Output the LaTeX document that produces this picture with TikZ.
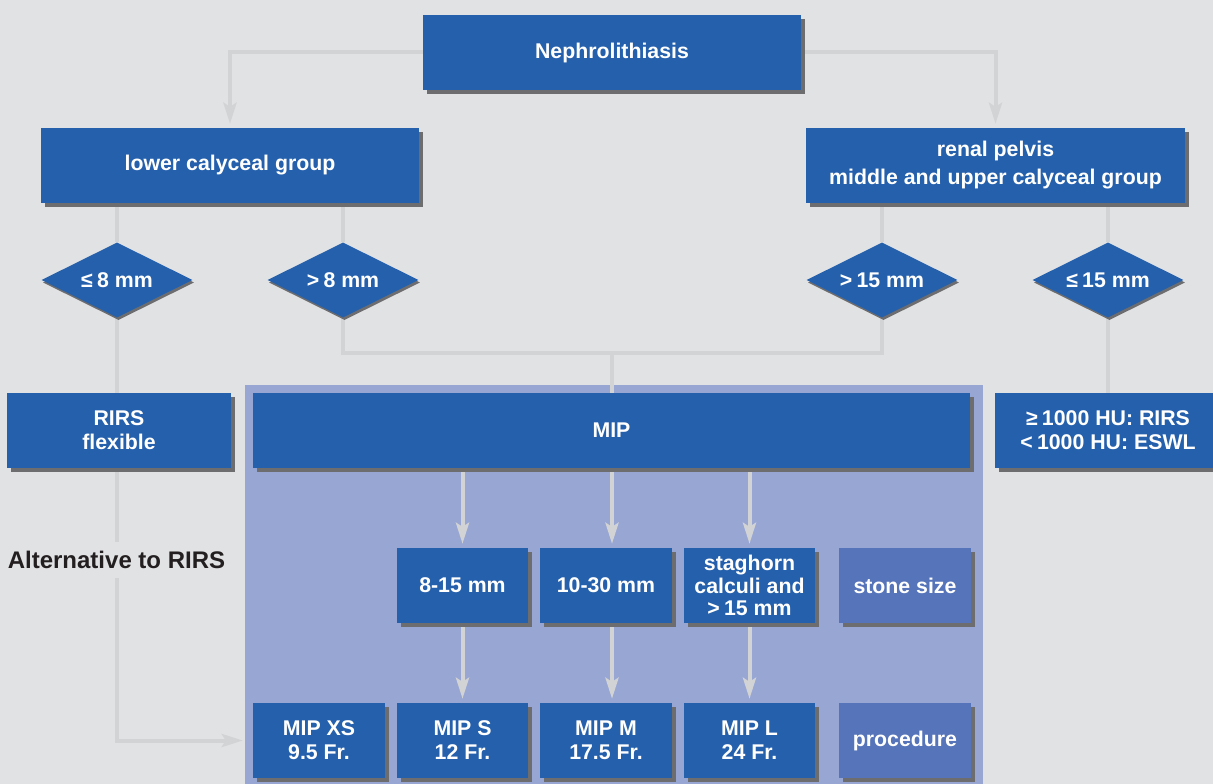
\documentclass[tikz,border=0pt]{standalone}
\usepackage{fontspec}
\setmainfont{Liberation Sans}
\usetikzlibrary{shapes.geometric,shadows,arrows.meta}
\definecolor{bggray}{HTML}{E1E2E4}
\definecolor{purp}{HTML}{98A6D4}
\definecolor{boxblue}{HTML}{2560AC}
\definecolor{lightblue}{HTML}{5574B9}
\definecolor{shad}{HTML}{6D6D6F}
\definecolor{linegray}{HTML}{D2D3D5}
\definecolor{darktext}{HTML}{231F20}
\pgfdeclarelayer{back}
\pgfdeclarelayer{lines}
\pgfsetlayers{back,lines,main}
\tikzset{
  boxbase/.style={rectangle, fill=boxblue, text=white, inner sep=0pt, align=center,
    font=\bfseries\fontsize{21.3}{24}\selectfont, minimum height=75pt,
    drop shadow={shadow xshift=4pt, shadow yshift=-4pt, fill=shad, opacity=1}},
  lbox/.style={boxbase, fill=lightblue},
  dia/.style={diamond, fill=boxblue, text=white, inner sep=0pt, minimum width=151pt, minimum height=75pt,
    font=\bfseries\fontsize{21.3}{24}\selectfont,
    drop shadow={shadow xshift=1.5pt, shadow yshift=-2.5pt, fill=shad, opacity=1}},
  conn/.style={draw=linegray, line width=4pt},
  arr/.style={conn, -{Stealth[length=21pt, width=13pt, inset=4pt]}, shorten >=4pt},
}
\newcommand{\dtxt}[1]{\makebox[0pt]{#1}}
\begin{document}
\begin{tikzpicture}[x=1pt, y=-1pt]
\clip (0,0) rectangle (1213,784);
\begin{pgfonlayer}{back}
  \fill[bggray] (0,0) rectangle (1213,784);
  \fill[purp] (245,385) rectangle (982.5,790);
\end{pgfonlayer}

\node[boxbase, minimum width=378pt] (top) at (612,52.5) {Nephrolithiasis};
\node[boxbase, minimum width=378pt] (lcg) at (230,165.5) {lower calyceal group};
\node[boxbase, minimum width=379pt, font=\bfseries\fontsize{21.3}{28}\selectfont] (rp) at (995.5,165.5) {renal pelvis\\middle and upper calyceal group};

\node[dia] (d1) at (117,280) {\dtxt{≤\hspace{0.2em}8 mm}};
\node[dia] (d2) at (343,280) {\dtxt{>\hspace{0.2em}8 mm}};
\node[dia] (d3) at (882,280) {\dtxt{>\hspace{0.2em}15 mm}};
\node[dia] (d4) at (1108,280) {\dtxt{≤\hspace{0.2em}15 mm}};

\coordinate (j) at (612,353);

\node[boxbase, minimum width=224pt] (rirs) at (119,430.5) {RIRS\\flexible};
\node[boxbase, minimum width=717pt] (mip) at (611.5,430.5) {MIP};
\node[boxbase, minimum width=226pt] (hu) at (1108,430.5) {≥\hspace{0.2em}1000 HU: RIRS\\<\hspace{0.2em}1000 HU: ESWL};

\node[text=darktext, font=\bfseries\fontsize{24}{28}\selectfont, inner sep=0pt, minimum height=35pt] (alt) at (116.5,560) {Alternative to RIRS};

\node[boxbase, minimum width=131pt] (b1) at (462.5,585.5) {8-15 mm};
\node[boxbase, minimum width=132pt] (b2) at (606,585.5) {10-30 mm};
\node[boxbase, minimum width=131pt, font=\bfseries\fontsize{21.3}{22.5}\selectfont] (b3) at (749.5,585.5) {staghorn\\calculi and\\>\hspace{0.2em}15 mm};
\node[lbox, minimum width=132pt] (b4) at (905,585.5) {stone size};

\node[boxbase, minimum width=132pt] (xs) at (319,740.5) {MIP XS\\9.5 Fr.};
\node[boxbase, minimum width=131pt] (ms) at (462.5,740.5) {MIP S\\12 Fr.};
\node[boxbase, minimum width=132pt] (mm) at (606,740.5) {MIP M\\17.5 Fr.};
\node[boxbase, minimum width=131pt] (ml) at (749.5,740.5) {MIP L\\24 Fr.};
\node[lbox, minimum width=132pt] (proc) at (905,740.5) {procedure};

\begin{pgfonlayer}{lines}
  \draw[arr] (top.west) -| (lcg.north);
  \draw[arr] (top.east) -| (rp.north);
  \draw[conn] (lcg.south -| d1.north) -- (d1.north);
  \draw[conn] (lcg.south -| d2.north) -- (d2.north);
  \draw[conn] (rp.south -| d3.north) -- (d3.north);
  \draw[conn] (rp.south -| d4.north) -- (d4.north);
  \draw[conn] (d1.south) -- (d1.south |- rirs.north);
  \draw[conn] (d4.south) -- (d4.south |- hu.north);
  \draw[conn] (d2.south) |- (j) -| (d3.south);
  \draw[conn] (j) -- (j |- mip.north);
  \draw[conn] (rirs.south -| d1.south) -- (alt.north -| d1.south);
  \draw[arr, shorten >=10pt] (alt.south -| d1.south) |- (xs.west);
  \draw[arr] (mip.south -| b1.north) -- (b1.north);
  \draw[arr] (mip.south -| j) -- (b2.north -| j);
  \draw[arr] (mip.south -| b3.north) -- (b3.north);
  \draw[arr] (b1.south) -- (ms.north);
  \draw[arr] (b2.south -| j) -- (mm.north -| j);
  \draw[arr] (b3.south) -- (ml.north);
\end{pgfonlayer}
\end{tikzpicture}
\end{document}
